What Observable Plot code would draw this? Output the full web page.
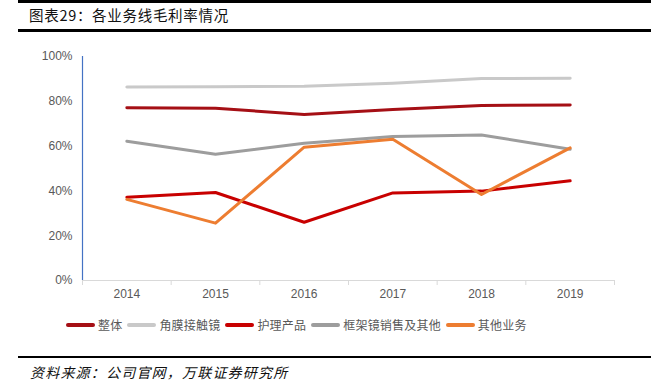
<!DOCTYPE html>
<html>
<head>
<meta charset="utf-8">
<script src="https://cdn.jsdelivr.net/npm/d3@7"></script>
<script src="https://cdn.jsdelivr.net/npm/@observablehq/plot@0.6"></script>
<style>
  html, body { margin: 0; padding: 0; background: #fff; }
  #page { position: relative; width: 664px; height: 385px; overflow: hidden; font-family: "Noto Sans CJK SC", sans-serif; }
  .hr { position: absolute; left: 18px; width: 633px; background: #000; }
  #title { position: absolute; left: 29px; top: 5px; font-size: 14.5px; letter-spacing: 0.7px; color: #111; line-height: 20px; }
  #chart { position: absolute; left: 0; top: 40px; }
  #legend { position: absolute; left: 66px; top: 316px; display: flex; align-items: center; font-size: 12px; color: #595959; line-height: 18px; letter-spacing: 0.2px; }
  .item { display: flex; align-items: center; margin-right: 5px; }
  .sw { width: 29px; height: 3.5px; border-radius: 2px; margin-right: 3px; }
  #source { position: absolute; left: 30px; top: 362px; font-size: 14px; font-style: italic; letter-spacing: 1.2px; color: #111; line-height: 20px; }
</style>
</head>
<body>
<div id="page">
  <div class="hr" style="top:0px;height:3px"></div>
  <div id="title">图表29：各业务线毛利率情况</div>
  <div class="hr" style="top:29px;height:2.5px"></div>
  <div id="chart"></div>
  <div id="legend"></div>
  <div class="hr" style="top:356px;height:2px"></div>
  <div id="source">资料来源：公司官网，万联证券研究所</div>
</div>
<script>
const years = [2014, 2015, 2016, 2017, 2018, 2019];
const seriesNames = ["整体", "角膜接触镜", "护理产品", "框架镜销售及其他", "其他业务"];
const seriesColors = ["#a50f15", "#c9c9c9", "#c80000", "#9d9d9d", "#ed7d31"];
const zhengti = [77.1, 76.9, 74.1, 76.3, 78.1, 78.4];
const jiaomo = [86.4, 86.5, 86.7, 88.1, 90.2, 90.3];
const huli = [37.2, 39.3, 26.0, 39.1, 39.9, 44.5];
const kuangjia = [62.2, 56.4, 61.3, 64.3, 65.0, 58.6];
const qita = [36.2, 25.6, 59.5, 63.1, 38.4, 59.2];
const yTicks = [0, 20, 40, 60, 80, 100];

const allValues = [zhengti, jiaomo, huli, kuangjia, qita];
const table = [];
seriesNames.forEach((name, i) => {
  years.forEach((yr, j) => table.push({series: name, year: yr, value: allValues[i][j]}));
});
const boundaries = [years[0] - 0.5, ...years.map(y => y + 0.5)];

const chart = Plot.plot({
  width: 664,
  height: 265,
  marginTop: 16,
  marginBottom: 25,
  marginLeft: 82,
  marginRight: 50,
  style: {fontFamily: "'Liberation Sans', Arial, sans-serif", fontSize: "12px", color: "#595959", background: "transparent"},
  x: {type: "linear", domain: [boundaries[0], boundaries[boundaries.length - 1]]},
  y: {domain: [0, 100]},
  color: {domain: seriesNames, range: seriesColors},
  marks: [
    Plot.ruleY([0], {stroke: "#d9d9d9", strokeWidth: 1}),
    Plot.axisX({ticks: boundaries, tickSize: 5, tickFormat: () => "", stroke: "#d9d9d9", label: null}),
    Plot.axisX({ticks: years, tickSize: 0, tickPadding: 9, tickFormat: d => String(d), fill: "#595959", fontSize: 12, label: null}),
    Plot.ruleX([boundaries[0]], {stroke: "#4472c4", strokeWidth: 1.2}),
    Plot.axisY({ticks: yTicks, tickSize: 0, tickPadding: 10, tickFormat: d => d + "%", fill: "#595959", fontSize: 12, label: null}),
    Plot.line(table, {x: "year", y: "value", z: "series", stroke: "series", strokeWidth: 3, strokeLinejoin: "round", strokeLinecap: "round"})
  ]
});
document.getElementById("chart").appendChild(chart);

const legend = document.getElementById("legend");
seriesNames.forEach((name, i) => {
  const it = document.createElement("div");
  it.className = "item";
  const sw = document.createElement("div");
  sw.className = "sw";
  sw.style.background = seriesColors[i];
  const tx = document.createElement("span");
  tx.textContent = name;
  it.appendChild(sw);
  it.appendChild(tx);
  legend.appendChild(it);
});
</script>
</body>
</html>
